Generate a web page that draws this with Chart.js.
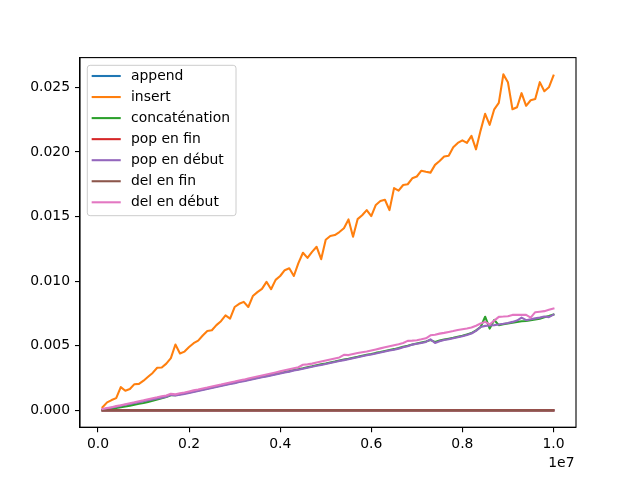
<!DOCTYPE html>
<html>
<head>
<meta charset="utf-8">
<script src="https://cdn.jsdelivr.net/npm/chart.js@4.4.1/dist/chart.umd.min.js"></script>
<style>
html,body{margin:0;padding:0;background:#fff;}
#wrap{width:640px;height:480px;}
</style>
</head>
<body>
<div id="wrap"><canvas id="c" width="640" height="480"></canvas></div>
<script>
// ---- data ----
const xValues = [
 100000,200000,300000,400000,500000,600000,700000,800000,900000,1000000,
 1100000,1200000,1300000,1400000,1500000,1600000,1700000,1800000,1900000,2000000,
 2100000,2200000,2300000,2400000,2500000,2600000,2700000,2800000,2900000,3000000,
 3100000,3200000,3300000,3400000,3500000,3600000,3700000,3800000,3900000,4000000,
 4100000,4200000,4300000,4400000,4500000,4600000,4700000,4800000,4900000,5000000,
 5100000,5200000,5300000,5400000,5500000,5600000,5700000,5800000,5900000,6000000,
 6100000,6200000,6300000,6400000,6500000,6600000,6700000,6800000,6900000,7000000,
 7100000,7200000,7300000,7400000,7500000,7600000,7700000,7800000,7900000,8000000,
 8100000,8200000,8300000,8400000,8500000,8600000,8700000,8800000,8900000,9000000,
 9100000,9200000,9300000,9400000,9500000,9600000,9700000,9800000,9900000,10000000];

const seriesNames = ["append","insert","concaténation","pop en fin","pop en début","del en fin","del en début"];
const seriesColors = ["#1f77b4","#ff7f0e","#2ca02c","#d62728","#9467bd","#8c564b","#e377c2"];

const appendVals = [
 0.000002,0.000002,0.000002,0.000002,0.000002,0.000002,0.000002,0.000002,0.000002,0.000002,
 0.000002,0.000002,0.000002,0.000002,0.000002,0.000002,0.000002,0.000002,0.000002,0.000002,
 0.000002,0.000002,0.000002,0.000002,0.000002,0.000002,0.000002,0.000002,0.000002,0.000002,
 0.000002,0.000002,0.000002,0.000002,0.000002,0.000002,0.000002,0.000002,0.000002,0.000002,
 0.000002,0.000002,0.000002,0.000002,0.000002,0.000002,0.000002,0.000002,0.000002,0.000002,
 0.000002,0.000002,0.000002,0.000002,0.000002,0.000002,0.000002,0.000002,0.000002,0.000002,
 0.000002,0.000002,0.000002,0.000002,0.000002,0.000002,0.000002,0.000002,0.000002,0.000002,
 0.000002,0.000002,0.000002,0.000002,0.000002,0.000002,0.000002,0.000002,0.000002,0.000002,
 0.000002,0.000002,0.000002,0.000002,0.000002,0.000002,0.000002,0.000002,0.000002,0.000002,
 0.000002,0.000002,0.000002,0.000002,0.000002,0.000002,0.000002,0.000002,0.000002,0.000002];

const insertVals = [
 0.00024,0.00062,0.00080,0.00095,0.00180,0.00152,0.00165,0.00203,0.00205,0.00230,
 0.00260,0.00290,0.00330,0.00332,0.00362,0.00405,0.00510,0.00440,0.00455,0.00490,
 0.00520,0.00540,0.00580,0.00615,0.00620,0.00660,0.00690,0.00735,0.00710,0.00800,
 0.00825,0.00840,0.00800,0.00885,0.00915,0.00940,0.00995,0.00938,0.01010,0.01040,
 0.01085,0.01100,0.01040,0.01140,0.01220,0.01180,0.01227,0.01266,0.01170,0.01320,
 0.01349,0.01357,0.01380,0.01410,0.01478,0.01344,0.01480,0.01510,0.01550,0.01504,
 0.01590,0.01620,0.01630,0.01550,0.01720,0.01700,0.01744,0.01750,0.01796,0.01810,
 0.01855,0.01847,0.01840,0.01900,0.01930,0.01964,0.01970,0.02036,0.02070,0.02090,
 0.02070,0.02124,0.02020,0.02165,0.02295,0.02210,0.02330,0.02380,0.02600,0.02540,
 0.02330,0.02346,0.02455,0.02357,0.02400,0.02410,0.02540,0.02470,0.02500,0.02590];

const concatVals = [
 0.00003,0.00007,0.00012,0.00018,0.00024,0.00030,0.00037,0.00044,0.00051,0.00058,
 0.00066,0.00074,0.00084,0.00094,0.00104,0.00117,0.00118,0.00125,0.00132,0.00139,
 0.00147,0.00154,0.00162,0.00170,0.00177,0.00185,0.00192,0.00200,0.00208,0.00215,
 0.00223,0.00230,0.00238,0.00245,0.00252,0.00260,0.00267,0.00275,0.00282,0.00289,
 0.00297,0.00304,0.00312,0.00319,0.00326,0.00334,0.00341,0.00349,0.00356,0.00363,
 0.00371,0.00378,0.00386,0.00393,0.00400,0.00408,0.00415,0.00423,0.00430,0.00437,
 0.00445,0.00452,0.00460,0.00467,0.00474,0.00482,0.00492,0.00500,0.00510,0.00518,
 0.00526,0.00534,0.00544,0.00530,0.00540,0.00548,0.00555,0.00562,0.00570,0.00578,
 0.00588,0.00598,0.00620,0.00645,0.00725,0.00633,0.00700,0.00660,0.00666,0.00672,
 0.00678,0.00684,0.00690,0.00692,0.00698,0.00703,0.00710,0.00720,0.00730,0.00742];

const popEndVals = [
 0.000001,0.000001,0.000001,0.000001,0.000001,0.000001,0.000001,0.000001,0.000001,0.000001,
 0.000001,0.000001,0.000001,0.000001,0.000001,0.000001,0.000001,0.000001,0.000001,0.000001,
 0.000001,0.000001,0.000001,0.000001,0.000001,0.000001,0.000001,0.000001,0.000001,0.000001,
 0.000001,0.000001,0.000001,0.000001,0.000001,0.000001,0.000001,0.000001,0.000001,0.000001,
 0.000001,0.000001,0.000001,0.000001,0.000001,0.000001,0.000001,0.000001,0.000001,0.000001,
 0.000001,0.000001,0.000001,0.000001,0.000001,0.000001,0.000001,0.000001,0.000001,0.000001,
 0.000001,0.000001,0.000001,0.000001,0.000001,0.000001,0.000001,0.000001,0.000001,0.000001,
 0.000001,0.000001,0.000001,0.000001,0.000001,0.000001,0.000001,0.000001,0.000001,0.000001,
 0.000001,0.000001,0.000001,0.000001,0.000001,0.000001,0.000001,0.000001,0.000001,0.000001,
 0.000001,0.000001,0.000001,0.000001,0.000001,0.000001,0.000001,0.000001,0.000001,0.000001];

const popStartVals = [
 0.00008,0.00015,0.00022,0.00029,0.00036,0.00043,0.00050,0.00057,0.00064,0.00071,
 0.00078,0.00085,0.00092,0.00099,0.00106,0.00120,0.00115,0.00121,0.00128,0.00135,
 0.00143,0.00150,0.00158,0.00166,0.00173,0.00181,0.00188,0.00196,0.00204,0.00211,
 0.00219,0.00226,0.00234,0.00241,0.00248,0.00256,0.00263,0.00271,0.00278,0.00285,
 0.00293,0.00300,0.00308,0.00315,0.00322,0.00330,0.00337,0.00345,0.00352,0.00359,
 0.00367,0.00374,0.00382,0.00389,0.00396,0.00404,0.00411,0.00419,0.00426,0.00433,
 0.00441,0.00448,0.00456,0.00463,0.00470,0.00478,0.00488,0.00496,0.00509,0.00515,
 0.00522,0.00530,0.00550,0.00522,0.00535,0.00544,0.00550,0.00558,0.00566,0.00574,
 0.00584,0.00595,0.00615,0.00646,0.00654,0.00657,0.00660,0.00664,0.00670,0.00677,
 0.00685,0.00695,0.00718,0.00698,0.00705,0.00712,0.00718,0.00726,0.00722,0.00741];

const delEndVals = [
 0.000001,0.000001,0.000001,0.000001,0.000001,0.000001,0.000001,0.000001,0.000001,0.000001,
 0.000001,0.000001,0.000001,0.000001,0.000001,0.000001,0.000001,0.000001,0.000001,0.000001,
 0.000001,0.000001,0.000001,0.000001,0.000001,0.000001,0.000001,0.000001,0.000001,0.000001,
 0.000001,0.000001,0.000001,0.000001,0.000001,0.000001,0.000001,0.000001,0.000001,0.000001,
 0.000001,0.000001,0.000001,0.000001,0.000001,0.000001,0.000001,0.000001,0.000001,0.000001,
 0.000001,0.000001,0.000001,0.000001,0.000001,0.000001,0.000001,0.000001,0.000001,0.000001,
 0.000001,0.000001,0.000001,0.000001,0.000001,0.000001,0.000001,0.000001,0.000001,0.000001,
 0.000001,0.000001,0.000001,0.000001,0.000001,0.000001,0.000001,0.000001,0.000001,0.000001,
 0.000001,0.000001,0.000001,0.000001,0.000001,0.000001,0.000001,0.000001,0.000001,0.000001,
 0.000001,0.000001,0.000001,0.000001,0.000001,0.000001,0.000001,0.000001,0.000001,0.000001];

const delStartVals = [
 0.00010,0.00018,0.00025,0.00033,0.00040,0.00048,0.00056,0.00063,0.00071,0.00078,
 0.00086,0.00094,0.00101,0.00109,0.00116,0.00128,0.00124,0.00132,0.00139,0.00147,
 0.00155,0.00162,0.00170,0.00177,0.00185,0.00193,0.00200,0.00208,0.00216,0.00223,
 0.00231,0.00238,0.00246,0.00254,0.00262,0.00270,0.00278,0.00286,0.00294,0.00302,
 0.00310,0.00318,0.00326,0.00334,0.00353,0.00356,0.00362,0.00370,0.00378,0.00386,
 0.00394,0.00402,0.00410,0.00430,0.00428,0.00436,0.00444,0.00450,0.00456,0.00464,
 0.00472,0.00480,0.00488,0.00496,0.00504,0.00512,0.00522,0.00538,0.00540,0.00543,
 0.00550,0.00558,0.00581,0.00586,0.00594,0.00600,0.00607,0.00614,0.00622,0.00628,
 0.00634,0.00641,0.00655,0.00672,0.00685,0.00665,0.00695,0.00724,0.00726,0.00729,
 0.00739,0.00739,0.00739,0.00739,0.00718,0.00760,0.00764,0.00768,0.00778,0.00788];

const xTickValues = [0, 2000000, 4000000, 6000000, 8000000, 10000000];
const xTickLabels = ["0.0", "0.2", "0.4", "0.6", "0.8", "1.0"];
const yTickValues = [0, 0.005, 0.010, 0.015, 0.020, 0.025];
const yTickLabels = ["0.000", "0.005", "0.010", "0.015", "0.020", "0.025"];
const xOffsetLabel = "1e7";

// ---- chart ----
const allSeries = [appendVals, insertVals, concatVals, popEndVals, popStartVals, delEndVals, delStartVals];
const FONT = "'DejaVu Sans', 'Liberation Sans', sans-serif";
const FS = 13.9;

const datasets = allSeries.map((vals, k) => ({
  label: seriesNames[k],
  data: vals.map((v, i) => ({x: xValues[i], y: v})),
  borderColor: seriesColors[k],
  backgroundColor: seriesColors[k],
  borderWidth: 2.08,
  pointRadius: 0,
  pointHoverRadius: 0,
  tension: 0,
  fill: false,
  order: allSeries.length - k,
  borderCapStyle: 'square',
  borderJoinStyle: 'round'
}));

const framePlugin = {
  id: 'frameAndLegend',
  afterDraw(chart) {
    const ctx = chart.ctx;
    const a = chart.chartArea;
    ctx.save();
    // frame (spines)
    ctx.strokeStyle = '#000';
    ctx.lineWidth = 1.1;
    ctx.strokeRect(a.left, a.top, a.right - a.left, a.bottom - a.top);
    // offset label
    ctx.fillStyle = '#000';
    ctx.font = FS + 'px ' + FONT;
    ctx.textAlign = 'right';
    ctx.textBaseline = 'alphabetic';
    ctx.fillText(xOffsetLabel, a.right - 1.5, 466.5);
    // legend box
    const bx = 87.3, by = 65.3, bw = 148.7, bh = 150.4, r = 2.8;
    ctx.beginPath();
    ctx.moveTo(bx + r, by);
    ctx.lineTo(bx + bw - r, by);
    ctx.arcTo(bx + bw, by, bx + bw, by + r, r);
    ctx.lineTo(bx + bw, by + bh - r);
    ctx.arcTo(bx + bw, by + bh, bx + bw - r, by + bh, r);
    ctx.lineTo(bx + r, by + bh);
    ctx.arcTo(bx, by + bh, bx, by + bh - r, r);
    ctx.lineTo(bx, by + r);
    ctx.arcTo(bx, by, bx + r, by, r);
    ctx.closePath();
    ctx.fillStyle = 'rgba(255,255,255,0.8)';
    ctx.fill();
    ctx.strokeStyle = '#cccccc';
    ctx.lineWidth = 1;
    ctx.stroke();
    ctx.textAlign = 'left';
    ctx.textBaseline = 'middle';
    for (let k = 0; k < seriesNames.length; k++) {
      const y = 76 + 21.05 * k;
      ctx.beginPath();
      ctx.moveTo(92.7, y);
      ctx.lineTo(119.7, y);
      ctx.strokeStyle = seriesColors[k];
      ctx.lineWidth = 2.08;
      ctx.lineCap = 'square';
      ctx.stroke();
      ctx.fillStyle = '#000';
      ctx.fillText(seriesNames[k], 131, y + 0.5);
    }
    ctx.restore();
  }
};

new Chart(document.getElementById('c'), {
  type: 'line',
  data: { datasets },
  options: {
    responsive: false,
    animation: false,
    events: [],
    layout: { padding: { top: 57.6, right: 64, left: 0, bottom: 0 } },
    plugins: { legend: { display: false }, tooltip: { enabled: false } },
    scales: {
      x: {
        type: 'linear',
        min: -395000,
        max: 10495000,
        afterBuildTicks: (s) => { s.ticks = xTickValues.map(v => ({ value: v })); },
        afterFit: (s) => { s.height = 52.8; },
        ticks: {
          autoSkip: false, maxRotation: 0, minRotation: 0,
          color: '#000', font: { family: FONT, size: FS }, padding: 4,
          callback: (v, i) => xTickLabels[i]
        },
        grid: { display: true, drawOnChartArea: false, drawTicks: true, tickLength: 5, color: '#000', lineWidth: 1.1 },
        border: { display: true, color: '#000', width: 1.1 }
      },
      y: {
        type: 'linear',
        min: -0.0013,
        max: 0.0273,
        afterBuildTicks: (s) => { s.ticks = yTickValues.map(v => ({ value: v })); },
        afterFit: (s) => { s.width = 80; },
        ticks: {
          autoSkip: false,
          color: '#000', font: { family: FONT, size: FS }, padding: 5,
          callback: (v, i) => yTickLabels[i]
        },
        grid: { display: true, drawOnChartArea: false, drawTicks: true, tickLength: 5, color: '#000', lineWidth: 1.1 },
        border: { display: true, color: '#000', width: 1.1 }
      }
    }
  },
  plugins: [framePlugin]
});
</script>
</body>
</html>
